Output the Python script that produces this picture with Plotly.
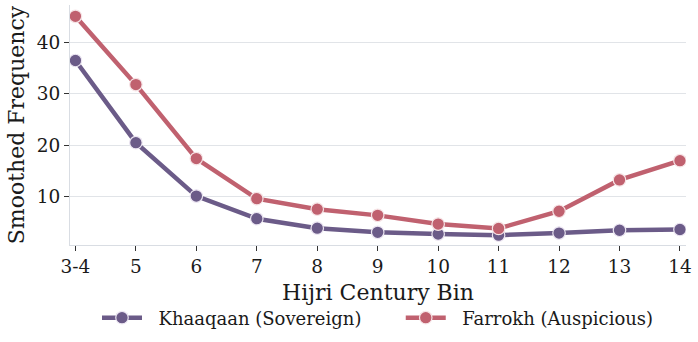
import plotly.graph_objects as go

categories = ["3-4", "5", "6", "7", "8", "9", "10", "11", "12", "13", "14"]
khaaqaan = [36.5, 20.5, 10.1, 5.7, 3.85, 3.05, 2.7, 2.5, 2.9, 3.45, 3.6]
farrokh = [45.1, 31.8, 17.4, 9.6, 7.55, 6.35, 4.65, 3.8, 7.15, 13.25, 17.0]
y_ticks = [10, 20, 30, 40]
series_names = ["Khaaqaan (Sovereign)", "Farrokh (Auspicious)"]

FONT = "DejaVu Serif"
x_idx = list(range(len(categories)))
PAD = "\u00a0\u00a0"
TRAIL = "\u00a0" * 6

fig = go.Figure()
fig.add_trace(go.Scatter(
    x=x_idx, y=khaaqaan, mode="lines+markers", name=PAD + series_names[0] + TRAIL,
    line=dict(color="#6b5b88", width=4.5),
    marker=dict(size=12.5, color="#6b5b88", line=dict(color="#ece6f2", width=1.2)),
))
fig.add_trace(go.Scatter(
    x=x_idx, y=farrokh, mode="lines+markers", name=PAD + series_names[1],
    line=dict(color="#c0616f", width=4.5),
    marker=dict(size=12.5, color="#c0616f", line=dict(color="#f6e4e6", width=1.2)),
))

fig.update_layout(
    width=698, height=342,
    margin=dict(l=70, r=12, t=5, b=97),
    paper_bgcolor="white", plot_bgcolor="white",
    font=dict(family=FONT, color="#1a1a1a", size=18.5),
    showlegend=True,
    legend=dict(orientation="h", x=0.5, xanchor="center", y=-0.304, yanchor="middle",
                font=dict(family=FONT, size=18, color="#1a1a1a"),
                itemwidth=40, tracegroupgap=0),
    xaxis=dict(
        range=[-0.09, 10.1], tickmode="array", tickvals=x_idx, ticktext=categories,
        showgrid=False, zeroline=False, showline=True, linecolor="#d9dde3", linewidth=1.2,
        ticks="outside", ticklen=5, tickcolor="#333", tickwidth=1.2,
        tickfont=dict(family=FONT, size=18.5, color="#1a1a1a"),
        title=dict(text="Hijri Century Bin", font=dict(family=FONT, size=22, color="#1a1a1a"), standoff=8),
    ),
    yaxis=dict(
        range=[0.58, 47.3], tickmode="array", tickvals=y_ticks,
        showgrid=True, gridcolor="#e1e4e8", gridwidth=1.2, zeroline=False,
        showline=True, linecolor="#d9dde3", linewidth=1.2,
        ticks="outside", ticklen=5, tickcolor="#333", tickwidth=1.2,
        tickfont=dict(family=FONT, size=18.5, color="#1a1a1a"),
        title=dict(text="Smoothed Frequency", font=dict(family=FONT, size=22, color="#1a1a1a"), standoff=5),
    ),
)

fig.write_html("out.html")
